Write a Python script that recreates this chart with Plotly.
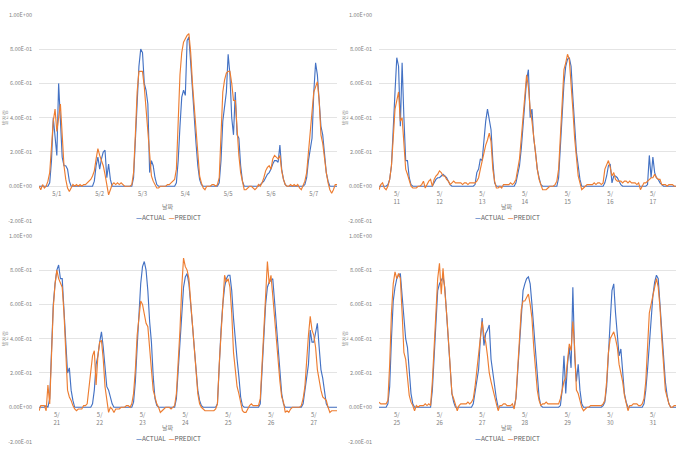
import plotly.graph_objects as go

# ---------------- data ----------------
labels_1 = ["5/1", "5/2", "5/3", "5/4", "5/5", "5/6", "5/7"]
labels_2 = ["5/<br>11", "5/<br>12", "5/<br>13", "5/<br>14", "5/<br>15", "5/<br>16", "5/<br>17"]
labels_3 = ["5/<br>21", "5/<br>22", "5/<br>23", "5/<br>24", "5/<br>25", "5/<br>26", "5/<br>27"]
labels_4 = ["5/<br>25", "5/<br>26", "5/<br>27", "5/<br>28", "5/<br>29", "5/<br>30", "5/<br>31"]

y_tick_values = [-0.2, 0.0, 0.2, 0.4, 0.6, 0.8, 1.0]
y_tick_labels = ["-2.00E-01", "0.00E+00", "2.00E-01", "4.00E-01", "6.00E-01", "8.00E-01", "1.00E+00"]

series_names = ["ACTUAL", "PREDICT"]

# hourly values, one row per day (24 values)
actual_1 = [
    0, 0, 0, 0, 0, 0, 0.02, 0.15, 0.40, 0.30, 0.18, 0.60, 0.35, 0.17, 0.12, 0.12, 0.10, 0.03, 0, 0, 0, 0, 0, 0,
    0, 0, 0, 0, 0, 0, 0, 0.03, 0.12, 0.17, 0.10, 0.16, 0.20, 0.21, 0.05, 0.13, 0.04, 0, 0, 0, 0, 0, 0, 0,
    0, 0, 0, 0, 0, 0.05, 0.28, 0.55, 0.70, 0.80, 0.78, 0.60, 0.56, 0.48, 0.08, 0.15, 0.12, 0.05, 0.01, 0, 0, 0, 0, 0,
    0, 0, 0, 0, 0, 0.02, 0.15, 0.35, 0.52, 0.56, 0.53, 0.85, 0.87, 0.72, 0.55, 0.40, 0.25, 0.12, 0.04, 0.01, 0, 0, 0, 0,
    0, 0, 0, 0, 0, 0.02, 0.15, 0.38, 0.48, 0.55, 0.77, 0.65, 0.40, 0.30, 0.55, 0.30, 0.28, 0.12, 0.03, 0, 0, 0, 0, 0,
    0, 0, 0, 0, 0.01, 0.02, 0.03, 0.05, 0.07, 0.08, 0.10, 0.13, 0.15, 0.15, 0.14, 0.24, 0.10, 0.04, 0.01, 0, 0, 0, 0, 0,
    0, 0, 0, 0, 0, 0.01, 0.05, 0.15, 0.22, 0.28, 0.55, 0.72, 0.65, 0.48, 0.35, 0.30, 0.18, 0.08, 0.03, 0, 0, 0, 0, 0,
]
predict_1 = [
    0, -0.02, 0.01, -0.01, 0, 0.03, 0.08, 0.22, 0.38, 0.45, 0.32, 0.40, 0.48, 0.30, 0.12, 0.04, -0.01, -0.03, -0.01, 0.01, 0, 0.01, 0, 0.01,
    0, 0.01, 0.01, 0.02, 0.03, 0.04, 0.06, 0.09, 0.16, 0.22, 0.18, 0.15, 0.12, 0.07, 0.02, -0.05, -0.02, 0.01, 0.02, 0.01, 0.02, 0.01, 0.02, 0.01,
    0, 0, 0, 0, 0.01, 0.08, 0.30, 0.55, 0.67, 0.67, 0.67, 0.58, 0.45, 0.30, 0.15, 0.06, 0.03, 0.01, -0.01, -0.01, 0, 0, 0, 0,
    0.01, 0.01, 0.02, 0.03, 0.04, 0.10, 0.35, 0.65, 0.78, 0.84, 0.86, 0.88, 0.89, 0.78, 0.60, 0.45, 0.30, 0.15, 0.06, 0.02, -0.01, -0.02, 0, 0,
    0, 0.01, 0.01, 0, 0.01, 0.05, 0.30, 0.55, 0.62, 0.66, 0.67, 0.67, 0.60, 0.50, 0.50, 0.32, 0.18, 0.08, 0.02, -0.02, -0.02, -0.01, 0, 0,
    -0.01, -0.02, -0.01, 0.01, 0, 0.02, 0.05, 0.09, 0.11, 0.12, 0.10, 0.16, 0.18, 0.17, 0.16, 0.18, 0.09, 0.04, 0.01, 0, 0, 0.01, 0, 0.01,
    0, 0.01, -0.01, -0.02, 0.01, 0.03, 0.08, 0.20, 0.32, 0.45, 0.55, 0.58, 0.61, 0.50, 0.30, 0.25, 0.15, 0.08, 0.02, -0.02, -0.04, -0.02, 0.01, 0.01,
]

actual_2 = [
    0, 0, 0, 0, 0, 0.01, 0.04, 0.12, 0.30, 0.55, 0.75, 0.70, 0.35, 0.72, 0.40, 0.15, 0.15, 0.05, 0.01, 0, 0, 0, 0, 0,
    0, 0, 0, 0, 0, 0, 0, 0.02, 0.04, 0.05, 0.05, 0.06, 0.07, 0.06, 0.05, 0.03, 0.01, 0, 0, 0, 0, 0, 0, 0,
    0, 0, 0, 0, 0, 0, 0.01, 0.08, 0.10, 0.16, 0.15, 0.28, 0.38, 0.45, 0.38, 0.33, 0.15, 0.02, 0, 0, 0, 0, 0, 0,
    0, 0, 0, 0, 0, 0.02, 0.07, 0.12, 0.22, 0.35, 0.48, 0.62, 0.68, 0.40, 0.45, 0.28, 0.20, 0.10, 0.05, 0.01, 0, 0, 0, 0,
    0, 0, 0, 0, 0, 0.05, 0.25, 0.45, 0.60, 0.70, 0.74, 0.75, 0.70, 0.52, 0.32, 0.20, 0.12, 0.04, 0, 0, 0, 0, 0, 0,
    0, 0, 0, 0, 0, 0, 0, 0.02, 0.06, 0.12, 0.13, 0.02, 0.06, 0.06, 0.05, 0.03, 0.01, 0, 0, 0, 0, 0, 0, 0,
    0, 0, 0, 0, 0, 0, 0, 0.01, 0.18, 0.05, 0.17, 0.08, 0.05, 0.04, 0.02, 0.01, 0, 0, 0, 0, 0, 0, 0, 0,
]
predict_2 = [
    -0.02, 0.01, 0.02, -0.01, -0.02, 0, 0.04, 0.12, 0.28, 0.45, 0.50, 0.55, 0.38, 0.40, 0.25, 0.10, 0.07, 0.03, 0, -0.01, -0.01, -0.01, 0, 0,
    0.01, 0.03, -0.01, 0.01, 0.03, 0.04, 0, 0.04, 0.06, 0.07, 0.09, 0.08, 0.06, 0.06, 0.04, 0.03, 0.01, 0.02, 0.03, 0.02, 0.02, 0.02, 0.02, 0.01,
    0.02, 0.02, 0.01, 0.02, 0.02, 0.02, 0.02, 0.03, 0.05, 0.10, 0.15, 0.20, 0.24, 0.27, 0.31, 0.26, 0.10, 0.03, -0.01, -0.01, 0, -0.01, 0.01, 0.01,
    0.01, 0.01, 0.02, 0.01, 0.02, 0.04, 0.10, 0.16, 0.28, 0.40, 0.52, 0.65, 0.58, 0.45, 0.38, 0.28, 0.18, 0.10, 0.04, 0.01, -0.02, -0.02, -0.02, -0.01,
    0, 0, 0, 0.01, 0.03, 0.10, 0.30, 0.50, 0.68, 0.72, 0.77, 0.74, 0.62, 0.45, 0.28, 0.15, 0.06, 0.02, -0.02, -0.01, 0, 0.01, 0.01, 0.01,
    0.01, 0.02, 0.01, 0.02, 0.02, 0.01, 0.02, 0.10, 0.13, 0.15, 0.11, 0.06, 0.08, 0.04, 0.03, 0.03, 0.03, 0.02, 0.03, 0.03, 0.02, 0.03, 0.02, 0.02,
    0.02, 0.01, 0.02, -0.02, 0, 0.02, 0.02, 0.03, 0.04, 0.05, 0.05, 0.07, 0.05, 0.04, 0.04, 0.01, 0.01, 0.01, 0, 0.01, 0.01, 0.01, 0, 0,
]

actual_3 = [
    0, 0, 0, 0, 0.01, 0, 0.05, 0.35, 0.60, 0.72, 0.80, 0.83, 0.75, 0.75, 0.58, 0.40, 0.20, 0.23, 0.10, 0.04, 0, 0, 0, 0,
    0, 0, 0, 0, 0, 0, 0.02, 0.10, 0.25, 0.30, 0.38, 0.44, 0.35, 0.22, 0.12, 0.10, 0.05, 0.02, 0, 0, 0, 0, 0, 0,
    0, 0, 0, 0, 0, 0.03, 0.15, 0.35, 0.55, 0.72, 0.82, 0.85, 0.80, 0.68, 0.50, 0.38, 0.18, 0.05, 0.01, 0, 0, 0, 0, 0,
    0, 0, 0, 0, 0, 0.05, 0.20, 0.38, 0.55, 0.70, 0.76, 0.78, 0.72, 0.62, 0.48, 0.35, 0.22, 0.10, 0.04, 0.01, 0, 0, 0, 0,
    0, 0, 0, 0, 0.02, 0.25, 0.45, 0.60, 0.70, 0.75, 0.77, 0.77, 0.68, 0.52, 0.38, 0.28, 0.18, 0.06, 0.01, 0, 0, 0, 0, 0,
    0, 0, 0, 0, 0.02, 0.20, 0.40, 0.60, 0.70, 0.73, 0.74, 0.75, 0.62, 0.48, 0.32, 0.20, 0.08, 0.02, 0, 0, 0, 0, 0, 0,
    0, 0, 0, 0, 0.02, 0.10, 0.18, 0.25, 0.45, 0.38, 0.38, 0.44, 0.49, 0.35, 0.22, 0.17, 0.08, 0.02, 0, 0, 0, 0, 0, 0,
]
predict_3 = [
    -0.02, 0.01, 0.01, 0.01, -0.02, 0.13, 0.02, 0.30, 0.58, 0.72, 0.80, 0.75, 0.72, 0.70, 0.55, 0.30, 0.10, 0.06, 0.04, 0.01, -0.01, -0.02, -0.01, -0.01,
    -0.01, 0.01, 0.01, 0.02, 0.12, 0.24, 0.30, 0.33, 0.13, 0.30, 0.38, 0.39, 0.28, 0.12, 0.05, -0.03, 0, -0.01, -0.03, -0.01, -0.01, -0.01, 0, 0,
    0, 0.01, 0.01, 0, 0.02, 0.08, 0.22, 0.42, 0.52, 0.62, 0.60, 0.55, 0.49, 0.47, 0.32, 0.22, 0.10, 0.05, 0.02, 0, -0.03, -0.02, -0.01, 0,
    0, 0, -0.01, 0, 0.01, 0.08, 0.25, 0.45, 0.70, 0.87, 0.82, 0.80, 0.75, 0.62, 0.48, 0.35, 0.20, 0.08, 0.02, 0, -0.01, -0.02, -0.02, -0.02,
    -0.02, -0.02, -0.02, -0.01, 0.02, 0.25, 0.45, 0.62, 0.77, 0.73, 0.75, 0.70, 0.55, 0.32, 0.20, 0.12, 0.08, 0.03, -0.02, -0.03, -0.03, -0.01, 0.01, 0.02,
    0.01, 0.01, 0.01, 0.01, 0.05, 0.25, 0.50, 0.68, 0.85, 0.72, 0.77, 0.65, 0.52, 0.40, 0.25, 0.15, 0.06, 0.03, -0.03, -0.02, -0.03, -0.01, 0, 0,
    0, 0, 0, 0.01, 0.05, 0.12, 0.28, 0.42, 0.53, 0.45, 0.42, 0.35, 0.22, 0.15, 0.10, 0.06, 0.05, 0.04, 0, -0.03, -0.02, -0.02, -0.02, -0.02,
]

actual_4 = [
    0, 0, 0, 0, 0, 0.02, 0.12, 0.40, 0.62, 0.70, 0.75, 0.77, 0.78, 0.65, 0.50, 0.40, 0.35, 0.20, 0.08, 0.02, 0, 0, 0, 0,
    0, 0, 0, 0, 0, 0, 0.10, 0.30, 0.52, 0.68, 0.72, 0.74, 0.76, 0.70, 0.55, 0.38, 0.20, 0.08, 0.03, 0, 0, 0, 0, 0,
    0, 0, 0, 0, 0, 0.02, 0.08, 0.15, 0.22, 0.40, 0.52, 0.36, 0.43, 0.45, 0.48, 0.28, 0.20, 0.15, 0.05, 0, 0, 0, 0, 0,
    0, 0, 0, 0, 0, 0.05, 0.22, 0.35, 0.55, 0.68, 0.72, 0.75, 0.76, 0.72, 0.60, 0.45, 0.30, 0.15, 0.06, 0.01, 0, 0, 0, 0,
    0, 0, 0, 0, 0, 0, 0.01, 0.10, 0.30, 0.08, 0.25, 0.35, 0.23, 0.70, 0.30, 0.15, 0.25, 0.10, 0.02, 0, 0, 0, 0, 0,
    0, 0, 0, 0, 0, 0, 0.01, 0.03, 0.12, 0.28, 0.50, 0.68, 0.72, 0.55, 0.40, 0.30, 0.34, 0.18, 0.08, 0.03, 0, 0, 0, 0,
    0, 0, 0, 0, 0, 0.02, 0.10, 0.22, 0.38, 0.52, 0.65, 0.73, 0.77, 0.75, 0.62, 0.45, 0.30, 0.15, 0.07, 0.02, 0, 0, 0, 0,
]
predict_4 = [
    0.03, 0.02, 0.02, 0.02, 0.02, 0.04, 0.25, 0.55, 0.72, 0.79, 0.75, 0.78, 0.75, 0.55, 0.32, 0.28, 0.17, 0.07, 0.03, 0.01, -0.02, 0.01, 0, 0.01,
    0.01, 0.01, 0.02, 0.01, 0.02, 0.01, 0.15, 0.35, 0.62, 0.75, 0.84, 0.66, 0.81, 0.70, 0.55, 0.40, 0.22, 0.08, 0.05, 0.02, -0.02, 0.01, 0.02, 0.02,
    0.02, 0.02, 0.03, 0.02, 0.03, 0.05, 0.12, 0.22, 0.32, 0.42, 0.50, 0.42, 0.38, 0.30, 0.20, 0.15, 0.10, 0.05, 0.02, -0.02, 0.01, 0.01, 0.02, 0.02,
    0.01, 0.01, 0.01, 0.02, -0.01, 0.06, 0.25, 0.40, 0.57, 0.62, 0.62, 0.64, 0.66, 0.60, 0.52, 0.35, 0.20, 0.10, 0.04, 0.01, 0.02, 0.02, 0.03, 0.02,
    0.02, 0.02, 0.02, 0.02, 0.02, 0.02, 0.05, 0.10, 0.15, 0.17, 0.28, 0.37, 0.33, 0.50, 0.35, 0.10, 0.08, 0.03, 0, -0.02, -0.01, 0, 0, 0.01,
    0.01, 0.01, 0.01, 0.01, 0.01, 0.01, 0.02, 0.04, 0.15, 0.32, 0.40, 0.42, 0.44, 0.40, 0.35, 0.25, 0.20, 0.15, 0.07, 0.03, -0.02, 0.01, 0.01, 0.02,
    0.02, 0.02, 0.01, 0.01, 0.02, 0.05, 0.15, 0.35, 0.55, 0.60, 0.65, 0.72, 0.75, 0.70, 0.58, 0.40, 0.25, 0.10, 0.06, 0.02, 0, 0, 0.01, 0.01,
]

hours = list(range(len(actual_1)))
day_tick_hours = [10 + 24 * d for d in range(7)]

# ---------------- layout geometry ----------------
W, H = 679, 450
YMIN, YMAX = -0.2, 1.0
FONT = "Noto Sans CJK KR, Noto Sans, sans-serif"
BLUE, ORANGE = "#4472C4", "#ED7D31"
TEXT_GREY = "#808080"

panels = [
    # labels, actual, predict, plot-left px, plot-right px, top px, bottom px, chart-center px
    (labels_1, actual_1, predict_1, 39, 337, 11, 220.5, 168),
    (labels_2, actual_2, predict_2, 379, 676, 11, 220.5, 507),
    (labels_3, actual_3, predict_3, 39, 337, 236, 445.5, 168),
    (labels_4, actual_4, predict_4, 379, 676, 236, 445.5, 507),
]

fig = go.Figure()
layout = dict(
    width=W, height=H, autosize=False,
    margin=dict(l=0, r=0, t=0, b=0),
    paper_bgcolor="white", plot_bgcolor="white",
    font=dict(family=FONT, size=6, color=TEXT_GREY),
    showlegend=False,
    annotations=[],
)

legend_text = (
    f'<span style="color:{BLUE}"><b>—</b></span>{series_names[0]}'
    f'  <span style="color:{ORANGE}"><b>—</b></span>{series_names[1]}'
)

for k, (labels, act, pred, x0, x1, top, bot, cx) in enumerate(panels, start=1):
    sfx = "" if k == 1 else str(k)
    xa, ya = "x" + sfx, "y" + sfx
    fig.add_trace(go.Scatter(x=hours, y=act, mode="lines", name=series_names[0],
                             line=dict(color=BLUE, width=1.15),
                             xaxis=xa, yaxis=ya))
    fig.add_trace(go.Scatter(x=hours, y=pred, mode="lines", name=series_names[1],
                             line=dict(color=ORANGE, width=1.15),
                             xaxis=xa, yaxis=ya))
    yd = [1 - bot / H, 1 - top / H]
    zero_pos = yd[0] + (0 - YMIN) / (YMAX - YMIN) * (yd[1] - yd[0])
    layout["xaxis" + sfx] = dict(
        domain=[x0 / W, x1 / W], range=[0, len(hours) - 1],
        anchor="free", position=zero_pos,
        tickmode="array", tickvals=day_tick_hours, ticktext=labels,
        showgrid=False, zeroline=False, showline=False, ticks="",
        ticklabelstandoff=3,
        tickfont=dict(family=FONT, size=6, color=TEXT_GREY),
        fixedrange=True,
    )
    layout["yaxis" + sfx] = dict(
        domain=yd, range=[YMIN, YMAX], anchor=xa,
        tickmode="array", tickvals=y_tick_values, ticktext=y_tick_labels,
        showgrid=True, gridcolor="#e4e4e4", gridwidth=1,
        zeroline=False, showline=False, ticks="",
        ticklabelstandoff=6,
        tickfont=dict(family=FONT, size=5.5, color=TEXT_GREY),
        fixedrange=True,
    )
    # legend (series swatches + names), x-axis title (날짜), y-axis title (발전량)
    layout["annotations"].append(dict(
        text=legend_text, x=cx / W, y=1 - (top + 206) / H, xref="paper", yref="paper",
        showarrow=False, xanchor="center", yanchor="middle",
        font=dict(family=FONT, size=6.5, color="#606060")))
    layout["annotations"].append(dict(
        text="날짜", x=cx / W, y=1 - (top + 195) / H, xref="paper", yref="paper",
        showarrow=False, xanchor="center", yanchor="middle",
        font=dict(family=FONT, size=6, color=TEXT_GREY)))
    layout["annotations"].append(dict(
        text="발전량", x=(x0 - 34.5) / W, y=1 - ((top + bot) / 2) / H, xref="paper", yref="paper",
        showarrow=False, xanchor="center", yanchor="middle", textangle=-90,
        font=dict(family=FONT, size=5.5, color="#909090")))

fig.update_layout(**layout)
fig.write_html("out.html")
